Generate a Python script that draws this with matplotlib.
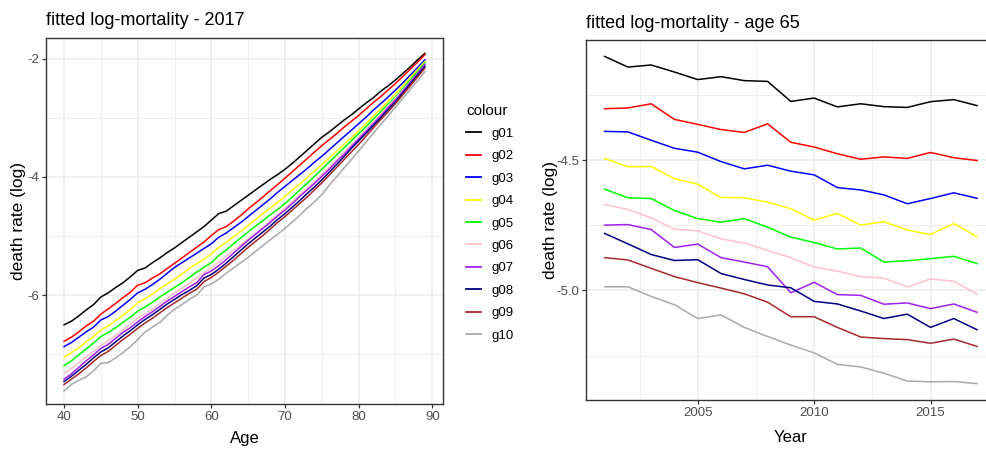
import numpy as np
import matplotlib
matplotlib.use("Agg")
import matplotlib.pyplot as plt
from matplotlib.lines import Line2D
from matplotlib.ticker import MultipleLocator

plt.rcParams['font.family'] = ['Liberation Sans', 'DejaVu Sans']

groups = ["g01", "g02", "g03", "g04", "g05", "g06", "g07", "g08", "g09", "g10"]
colours = ["black", "red", "blue", "yellow", "#00FF00", "pink", "#A020F0", "navy", "brown", "darkgray"]

ages = list(range(40, 90))
years = list(range(2001, 2018))

# fitted log-mortality by age, year 2017
g01_age = [-6.50, -6.44, -6.35, -6.25, -6.16, -6.03, -5.96, -5.87, -5.79, -5.69,
           -5.58, -5.54, -5.45, -5.37, -5.28, -5.20, -5.11, -5.02, -4.93, -4.84,
           -4.73, -4.62, -4.58, -4.49, -4.40, -4.31, -4.22, -4.13, -4.04, -3.96,
           -3.87, -3.77, -3.66, -3.55, -3.44, -3.33, -3.24, -3.14, -3.04, -2.95,
           -2.85, -2.75, -2.66, -2.55, -2.46, -2.36, -2.25, -2.14, -2.02, -1.91]
g02_age = [-6.78, -6.71, -6.62, -6.52, -6.44, -6.32, -6.23, -6.14, -6.04, -5.95,
           -5.83, -5.79, -5.71, -5.64, -5.55, -5.46, -5.37, -5.28, -5.19, -5.10,
           -4.99, -4.89, -4.84, -4.75, -4.65, -4.54, -4.44, -4.34, -4.23, -4.13,
           -4.02, -3.91, -3.80, -3.69, -3.58, -3.47, -3.37, -3.27, -3.16, -3.06,
           -2.96, -2.85, -2.74, -2.64, -2.53, -2.42, -2.30, -2.18, -2.06, -1.93]
g03_age = [-6.87, -6.80, -6.71, -6.62, -6.54, -6.42, -6.36, -6.27, -6.17, -6.07,
           -5.96, -5.90, -5.82, -5.73, -5.63, -5.53, -5.45, -5.37, -5.29, -5.21,
           -5.13, -5.02, -4.95, -4.86, -4.77, -4.67, -4.57, -4.47, -4.37, -4.26,
           -4.16, -4.06, -3.96, -3.86, -3.75, -3.65, -3.54, -3.43, -3.32, -3.21,
           -3.10, -2.99, -2.87, -2.76, -2.65, -2.53, -2.41, -2.28, -2.15, -2.02]
g04_age = [-7.05, -6.97, -6.89, -6.79, -6.70, -6.59, -6.52, -6.43, -6.34, -6.24,
           -6.13, -6.06, -5.98, -5.89, -5.81, -5.73, -5.64, -5.55, -5.47, -5.39,
           -5.30, -5.19, -5.11, -5.01, -4.92, -4.82, -4.72, -4.62, -4.53, -4.43,
           -4.33, -4.22, -4.12, -4.01, -3.90, -3.79, -3.68, -3.57, -3.45, -3.34,
           -3.22, -3.10, -2.97, -2.85, -2.72, -2.59, -2.46, -2.32, -2.19, -2.05]
g05_age = [-7.19, -7.11, -7.01, -6.91, -6.81, -6.70, -6.63, -6.55, -6.46, -6.37,
           -6.27, -6.20, -6.12, -6.03, -5.95, -5.87, -5.79, -5.70, -5.61, -5.53,
           -5.45, -5.33, -5.24, -5.13, -5.03, -4.93, -4.83, -4.74, -4.64, -4.55,
           -4.45, -4.34, -4.22, -4.11, -3.99, -3.87, -3.75, -3.63, -3.51, -3.39,
           -3.27, -3.15, -3.02, -2.90, -2.77, -2.65, -2.51, -2.36, -2.22, -2.07]
g06_age = [-7.32, -7.24, -7.14, -7.04, -6.95, -6.85, -6.77, -6.68, -6.59, -6.49,
           -6.39, -6.31, -6.23, -6.14, -6.05, -5.96, -5.88, -5.80, -5.71, -5.62,
           -5.53, -5.44, -5.34, -5.24, -5.15, -5.05, -4.95, -4.85, -4.74, -4.64,
           -4.53, -4.42, -4.30, -4.19, -4.08, -3.96, -3.84, -3.71, -3.58, -3.46,
           -3.33, -3.20, -3.07, -2.94, -2.80, -2.67, -2.53, -2.39, -2.25, -2.10]
g07_age = [-7.42, -7.33, -7.22, -7.11, -7.01, -6.90, -6.83, -6.73, -6.63, -6.55,
           -6.45, -6.36, -6.28, -6.19, -6.10, -6.02, -5.94, -5.86, -5.79, -5.65,
           -5.59, -5.50, -5.40, -5.29, -5.18, -5.07, -4.97, -4.87, -4.77, -4.66,
           -4.56, -4.45, -4.33, -4.22, -4.11, -3.99, -3.87, -3.74, -3.62, -3.49,
           -3.36, -3.23, -3.10, -2.97, -2.83, -2.70, -2.55, -2.40, -2.25, -2.10]
g08_age = [-7.46, -7.37, -7.27, -7.17, -7.06, -6.96, -6.89, -6.79, -6.69, -6.60,
           -6.50, -6.41, -6.33, -6.24, -6.15, -6.07, -5.99, -5.92, -5.84, -5.71,
           -5.65, -5.56, -5.46, -5.35, -5.24, -5.13, -5.03, -4.93, -4.83, -4.72,
           -4.62, -4.51, -4.40, -4.28, -4.17, -4.05, -3.92, -3.79, -3.66, -3.52,
           -3.39, -3.26, -3.13, -3.00, -2.86, -2.73, -2.58, -2.43, -2.28, -2.13]
g09_age = [-7.51, -7.42, -7.33, -7.23, -7.12, -7.02, -6.95, -6.85, -6.75, -6.66,
           -6.56, -6.47, -6.39, -6.30, -6.21, -6.13, -6.05, -5.97, -5.90, -5.77,
           -5.70, -5.61, -5.51, -5.41, -5.30, -5.19, -5.09, -4.99, -4.88, -4.77,
           -4.67, -4.56, -4.45, -4.34, -4.22, -4.10, -3.97, -3.84, -3.71, -3.58,
           -3.45, -3.31, -3.17, -3.03, -2.90, -2.76, -2.61, -2.46, -2.31, -2.16]
g10_age = [-7.62, -7.51, -7.44, -7.38, -7.28, -7.15, -7.14, -7.06, -6.97, -6.87,
           -6.75, -6.62, -6.54, -6.46, -6.34, -6.24, -6.16, -6.07, -6.00, -5.86,
           -5.81, -5.73, -5.63, -5.54, -5.45, -5.36, -5.26, -5.16, -5.06, -4.97,
           -4.87, -4.76, -4.65, -4.53, -4.42, -4.30, -4.14, -4.00, -3.85, -3.71,
           -3.56, -3.41, -3.26, -3.11, -2.97, -2.82, -2.67, -2.52, -2.37, -2.22]

# fitted log-mortality at age 65, 2001-2017
g01_year = [-4.101, -4.142, -4.134, -4.161, -4.190, -4.179, -4.194, -4.197, -4.274,
            -4.261, -4.295, -4.283, -4.294, -4.297, -4.275, -4.267, -4.290]
g02_year = [-4.302, -4.299, -4.283, -4.343, -4.362, -4.382, -4.393, -4.360, -4.431,
            -4.449, -4.475, -4.496, -4.487, -4.493, -4.470, -4.490, -4.501]
g03_year = [-4.389, -4.391, -4.423, -4.454, -4.469, -4.505, -4.533, -4.519, -4.542,
            -4.556, -4.605, -4.614, -4.633, -4.667, -4.647, -4.625, -4.646]
g04_year = [-4.493, -4.525, -4.524, -4.571, -4.592, -4.643, -4.644, -4.661, -4.686,
            -4.730, -4.704, -4.749, -4.736, -4.768, -4.785, -4.743, -4.794]
g05_year = [-4.611, -4.644, -4.647, -4.693, -4.724, -4.738, -4.724, -4.757, -4.795,
            -4.816, -4.841, -4.837, -4.891, -4.886, -4.878, -4.869, -4.897]
g06_year = [-4.670, -4.689, -4.721, -4.765, -4.771, -4.802, -4.818, -4.846, -4.874,
            -4.910, -4.926, -4.947, -4.953, -4.987, -4.956, -4.965, -5.014]
g07_year = [-4.749, -4.747, -4.766, -4.835, -4.822, -4.874, -4.891, -4.909, -5.009,
            -4.969, -5.016, -5.019, -5.053, -5.048, -5.070, -5.052, -5.084]
g08_year = [-4.781, -4.821, -4.862, -4.885, -4.882, -4.935, -4.958, -4.979, -4.990,
            -5.042, -5.052, -5.079, -5.108, -5.091, -5.142, -5.108, -5.151]
g09_year = [-4.874, -4.883, -4.915, -4.947, -4.970, -4.991, -5.013, -5.045, -5.101,
            -5.101, -5.142, -5.179, -5.185, -5.189, -5.203, -5.187, -5.215]
g10_year = [-4.986, -4.986, -5.023, -5.055, -5.108, -5.094, -5.142, -5.177, -5.210,
            -5.240, -5.284, -5.294, -5.318, -5.348, -5.351, -5.350, -5.358]

by_age = [g01_age, g02_age, g03_age, g04_age, g05_age,
          g06_age, g07_age, g08_age, g09_age, g10_age]
by_year = [g01_year, g02_year, g03_year, g04_year, g05_year,
           g06_year, g07_year, g08_year, g09_year, g10_year]

grid_col = "#EBEBEB"
border_col = "#333333"
tick_col = "#4D4D4D"


def style_axes(ax):
    ax.set_facecolor("white")
    for s in ax.spines.values():
        s.set_color(border_col)
        s.set_linewidth(1.0)
    ax.grid(which="major", color=grid_col, linewidth=1.1)
    ax.grid(which="minor", color=grid_col, linewidth=0.6)
    ax.set_axisbelow(True)
    ax.tick_params(which="major", length=3, width=0.9, color=border_col,
                   labelcolor=tick_col, labelsize=9.5, pad=2)
    ax.tick_params(which="minor", length=0)


fig = plt.figure(figsize=(9.87, 4.49), dpi=100)

# left panel
ax1 = fig.add_axes([0.0466, 0.1002, 0.4022, 0.8152])
for vals, c in zip(by_age, colours):
    ax1.plot(ages, vals, color=c, lw=1.1)
ax1.set_xlim(37.55, 91.45)
ax1.set_ylim(-7.84, -1.65)
ax1.xaxis.set_major_locator(MultipleLocator(10))
ax1.xaxis.set_minor_locator(MultipleLocator(5))
ax1.yaxis.set_major_locator(MultipleLocator(2))
ax1.yaxis.set_minor_locator(MultipleLocator(1))
ax1.yaxis.set_major_formatter(plt.FuncFormatter(lambda v, p: "%d" % v))
style_axes(ax1)
ax1.set_xlabel("Age", fontsize=12, labelpad=6)
ax1.set_ylabel("death rate (log)", fontsize=12.5, labelpad=0.5)
ax1.set_title("fitted log-mortality - 2017", fontsize=13, loc="left", pad=9)

# right panel (right edge runs past the image)
ax2 = fig.add_axes([0.5937, 0.1091, 0.4151, 0.8018])
for vals, c in zip(by_year, colours):
    ax2.plot(years, vals, color=c, lw=1.1)
ax2.set_xlim(2000.2, 2017.8)
ax2.set_ylim(-5.421, -4.038)
ax2.xaxis.set_major_locator(MultipleLocator(5))
ax2.xaxis.set_minor_locator(MultipleLocator(2.5))
ax2.yaxis.set_major_locator(MultipleLocator(0.5))
ax2.yaxis.set_minor_locator(MultipleLocator(0.25))
ax2.yaxis.set_major_formatter(plt.FuncFormatter(lambda v, p: "%.1f" % v))
style_axes(ax2)
ax2.set_xlabel("Year", fontsize=12, labelpad=8)
ax2.set_ylabel("death rate (log)", fontsize=12.5, labelpad=-1.5)
ax2.set_title("fitted log-mortality - age 65", fontsize=13, loc="left", pad=9)

handles = [Line2D([], [], color=c, lw=1.3) for c in colours]
leg = fig.legend(handles, groups, title="colour", loc="upper left",
                 bbox_to_anchor=(0.467, 0.781), frameon=False, fontsize=9.5,
                 title_fontsize=11, handlelength=1.1, handletextpad=0.85,
                 labelspacing=0.77, borderaxespad=0)
leg._legend_box.align = "left"

fig.savefig("out.png", dpi=100)
